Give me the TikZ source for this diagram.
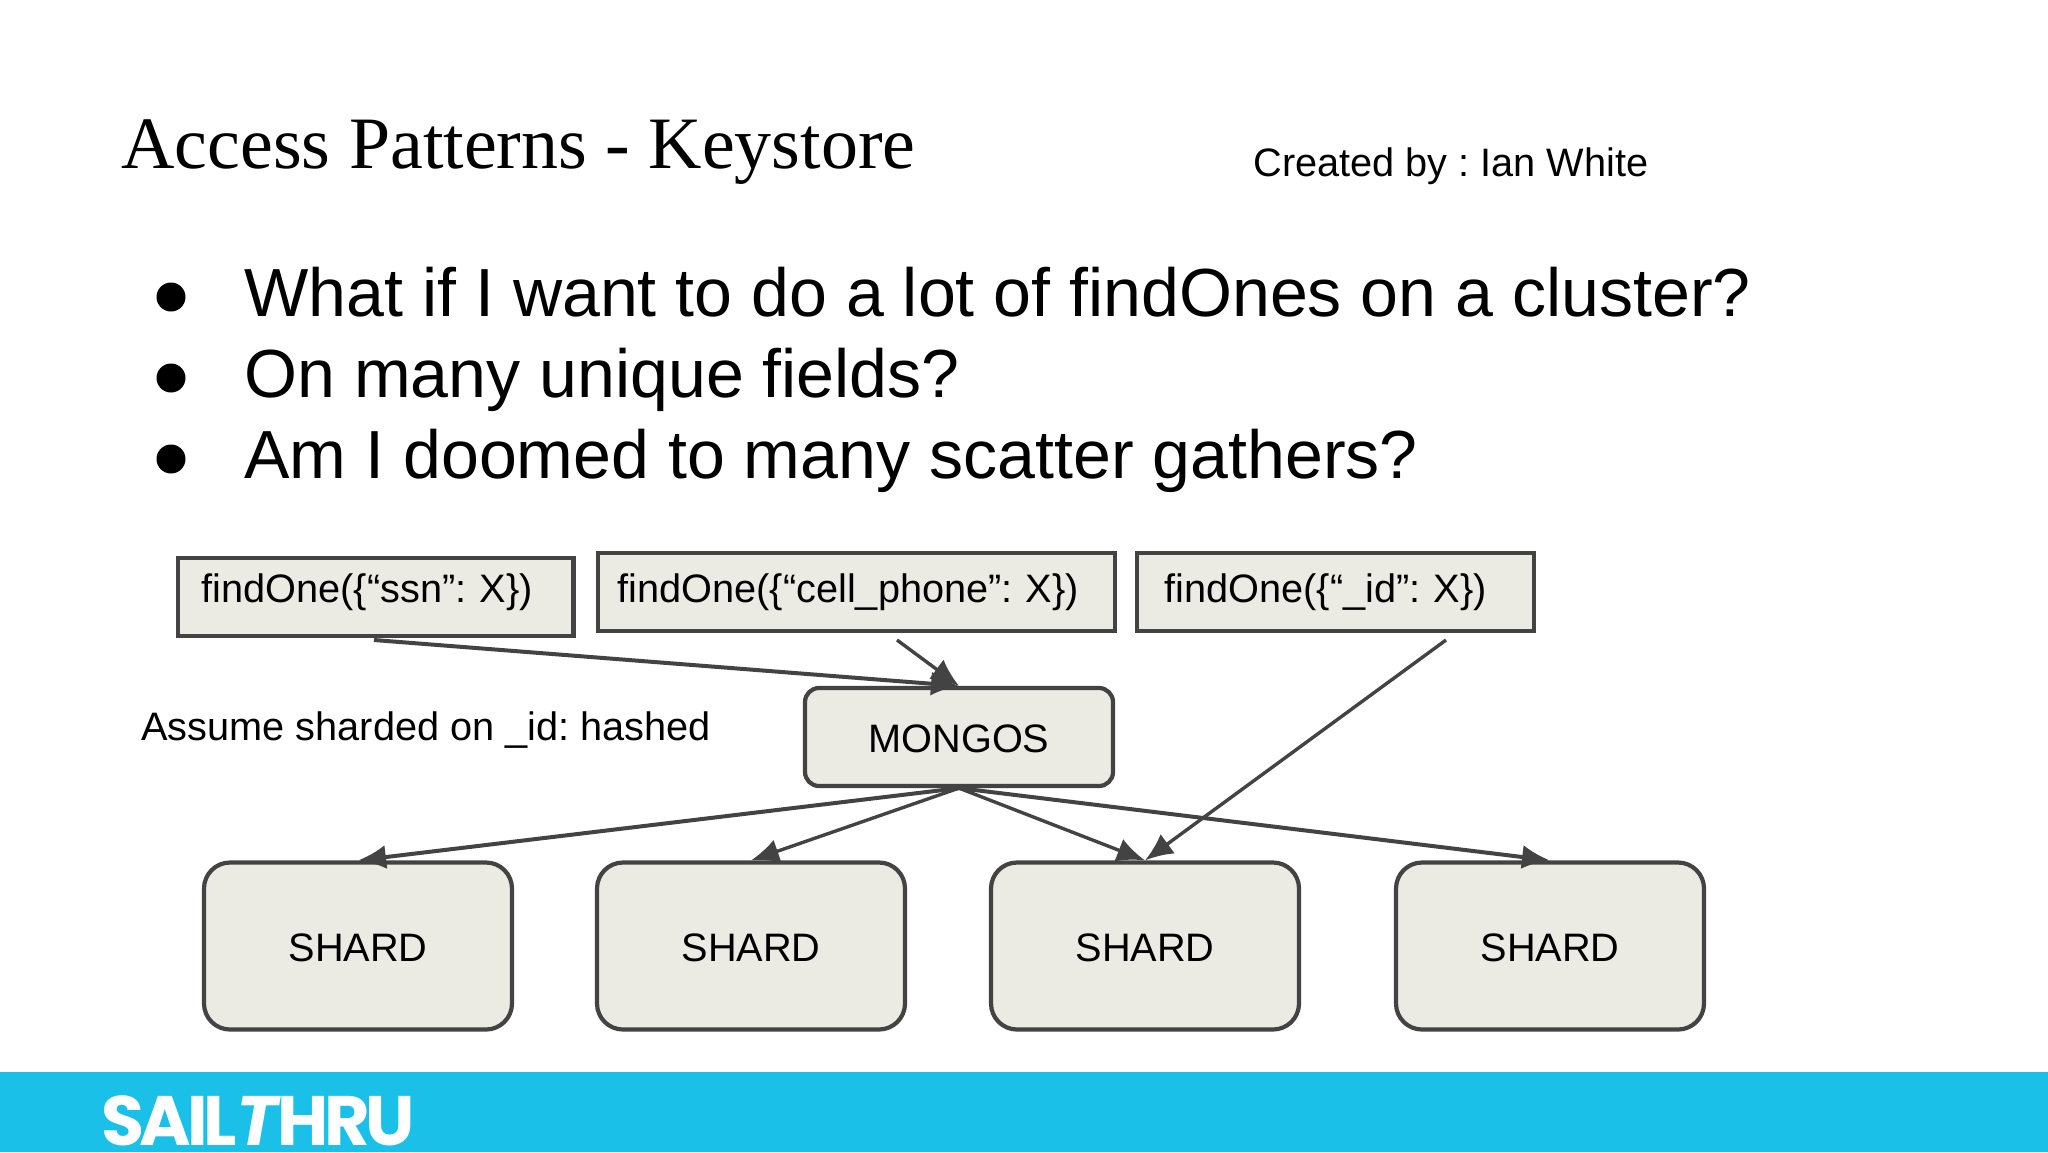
\documentclass[tikz,border=0pt]{standalone}
\usepackage{fontspec}
\setmainfont{Liberation Sans}
\newfontfamily\titlefont{Liberation Serif}
\newfontfamily\logofont[LetterSpace=-6.5]{Poppins}
\usetikzlibrary{arrows.meta}
\definecolor{boxfill}{HTML}{ECEBE3}
\definecolor{boxline}{HTML}{434343}
\definecolor{barblue}{HTML}{1AC0E8}
\tikzset{
  bodytext/.style = {anchor=base west, inner sep=0pt, font=\fontsize{34.05}{34}\selectfont},
  smalltext/.style = {anchor=base west, inner sep=0pt, font=\fontsize{19.85}{20}\selectfont},
  bulletdot/.style = {circle, fill=black, inner sep=0pt, minimum size=14.5pt},
  findbox/.style = {draw=boxline, fill=boxfill, line width=2.1pt, anchor=north west, inner ysep=0pt,
    align=left, font=\fontsize{19.85}{20}\selectfont},
  routerbox/.style = {draw=boxline, fill=boxfill, line width=2.1pt, rounded corners=7pt,
    minimum width=154pt, minimum height=49pt, text height=15.2pt, text depth=0pt,
    font=\fontsize{19.85}{20}\selectfont},
  shardbox/.style = {draw=boxline, fill=boxfill, line width=2.1pt, rounded corners=13pt,
    minimum width=154pt, minimum height=83.5pt, text height=15.2pt, text depth=0pt,
    font=\fontsize{19.85}{20}\selectfont},
  flow/.style = {draw=boxline, line width=2pt, -{Latex[length=14pt,width=12pt]}}
}
\begin{document}
\frenchspacing
\begin{tikzpicture}[x=0.5pt, y=-0.5pt]
\useasboundingbox (0,0) rectangle (2048,1152);
\fill[barblue] (0,1072) rectangle (2048,1152);
\node[anchor=base west, inner sep=0pt, text=white, font=\logofont\bfseries\fontsize{35}{35}\selectfont] (logo) at (101,1145) {SAIL{\itshape T}HRU};
\node[anchor=base west, inner sep=0pt, font=\titlefont\fontsize{36.95}{37}\selectfont] (title) at (121,168) {Access Patterns - Keystore};
\node[smalltext] (credit) at (1253,176) {Created by : Ian White};
\node[bulletdot] (b1) at (171,297) {};
\node[bulletdot] (b2) at (171,378) {};
\node[bulletdot] (b3) at (171,459) {};
\node[bodytext] (q1) at (244,316) {What if I want to do a lot of findOnes on a cluster?};
\node[bodytext] (q2) at (244,397) {On many unique fields?};
\node[bodytext] (q3) at (244,478) {Am I doomed to many scatter gathers?};
\node[findbox, inner xsep=11.75pt, text width=174.2pt, text height=22pt, text depth=17pt] (ssn) at (176,556) {findOne(\{“ssn”: X\})};
\node[findbox, inner xsep=9.8pt, text width=238.9pt, text height=24.8pt, text depth=14.2pt] (phone) at (596,551) {findOne(\{“cell\_phone”: X\})};
\node[findbox, inner xsep=13.7pt, text width=171.1pt, text height=24.8pt, text depth=14.2pt] (idbox) at (1135,551) {findOne(\{“\_id”: X\})};
\node[smalltext] (assume) at (141,740) {Assume sharded on \_id: hashed};
\node[routerbox] (mongos) at (959,737) {MONGOS};
\node[shardbox] (s1) at (358,946) {SHARD};
\node[shardbox] (s2) at (751,946) {SHARD};
\node[shardbox] (s3) at (1145,946) {SHARD};
\node[shardbox] (s4) at (1550,946) {SHARD};
\coordinate (ssnend) at (374,640);
\coordinate (phoneend) at (897,640);
\coordinate (idend) at (1446,640);
\draw[flow] (ssnend) -- (mongos.north);
\draw[flow, line width=1.7pt] (phoneend) -- (mongos.north);
\draw[flow, line width=1.7pt] (idend) -- (s3.north);
\draw[flow] (mongos.south) -- (s1.north);
\draw[flow, line width=1.7pt] (mongos.south) -- (s2.north);
\draw[flow, line width=1.7pt] (mongos.south) -- (s3.north);
\draw[flow] (mongos.south) -- (s4.north);
\end{tikzpicture}
\end{document}
